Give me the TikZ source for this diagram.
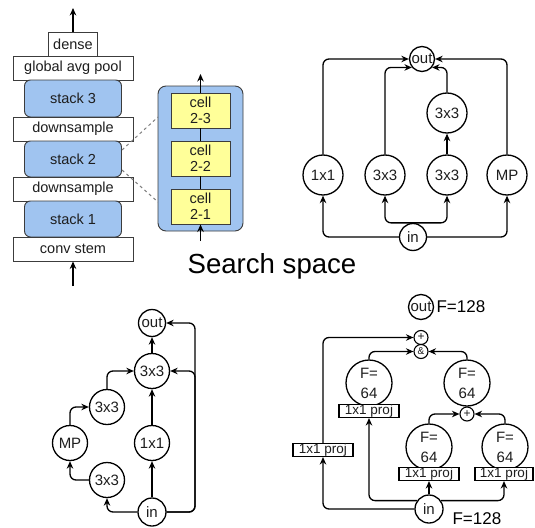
\documentclass[tikz,border=0pt]{standalone}
\usepackage{fontspec}
\setmainfont{Liberation Sans}
\usetikzlibrary{arrows.meta}
\definecolor{stackblue}{RGB}{160,196,240}
\definecolor{cellyellow}{RGB}{255,255,153}
\definecolor{edgegray}{RGB}{60,60,60}
\definecolor{txt}{RGB}{30,30,30}
\begin{document}
\begin{tikzpicture}[x=1pt,y=-1pt,
  lbl/.style={font=\fontsize{14.5}{16}\selectfont, text=txt},
  oplbl/.style={font=\fontsize{15}{16}\selectfont, text=txt},
  whitebox/.style={draw=edgegray, fill=white, line width=0.9pt, minimum height=24pt, inner sep=0pt, lbl},
  stackbox/.style={draw=edgegray, fill=stackblue, line width=0.9pt, rounded corners=6pt, minimum width=97pt, minimum height=36pt, inner sep=0pt, lbl},
  cellbox/.style={draw=edgegray, fill=cellyellow, line width=0.9pt, minimum width=59pt, minimum height=35pt, inner sep=0pt, align=center, lbl},
  op/.style={circle, draw=black, line width=1.3pt, fill=white, inner sep=0pt, oplbl},
  fop/.style={op, minimum size=46pt, align=center, font=\fontsize{15}{20}\selectfont},
  small/.style={op, minimum size=14pt, line width=1.1pt, font=\fontsize{12}{12}\selectfont},
  proj/.style={draw=black, fill=white, line width=1.1pt, minimum width=60pt, minimum height=13pt, inner sep=0pt, font=\fontsize{13.5}{13}\selectfont, text=txt},
  arr/.style={-{Stealth[length=7.5pt,width=6.5pt]}, line width=1.3pt, rounded corners=6pt},
  plain/.style={line width=1.2pt},
  flabel/.style={font=\fontsize{17}{18}\selectfont, anchor=west}
]
\useasboundingbox (0,0) rectangle (535,527);

% ---------- left stack ----------
\node[whitebox, minimum width=49pt] (dense) at (73,44) {dense};
\node[whitebox, minimum width=120pt] (gap) at (73,68) {global avg pool};
\node[stackbox, minimum height=37pt] (s3) at (73,98.5) {stack 3};
\node[whitebox, minimum width=120pt] (ds2) at (73,129) {downsample};
\node[stackbox] (s2) at (73,159) {stack 2};
\node[whitebox, minimum width=120pt] (ds1) at (73,189) {downsample};
\node[stackbox] (s1) at (73,219) {stack 1};
\node[whitebox, minimum width=120pt] (stem) at (73,249) {conv stem};
\coordinate (topout) at (73,8);
\coordinate (botin) at (73,286);
\draw[arr] (dense.north) -- (topout);
\draw[arr] (botin) -- (stem.south);

% ---------- cell container ----------
\node[draw=edgegray, fill=stackblue, line width=0.9pt, rounded corners=8pt,
      minimum width=85pt, minimum height=145pt, inner sep=0pt] (cont) at (200.5,158.5) {};
\node[cellbox] (c23) at (200.5,110.5) {cell\\2-3};
\node[cellbox] (c22) at (200.5,158.5) {cell\\2-2};
\node[cellbox] (c21) at (200.5,206.5) {cell\\2-1};
\coordinate (ctop) at (200.5,74);
\coordinate (cbot) at (200.5,241);
\draw[arr] (c23.north) -- (ctop);
\draw[arr] (cbot) -- (c21.south);
\draw[plain, line width=1pt] (c21.north) -- (c22.south);
\draw[plain, line width=1pt] (c22.north) -- (c23.south);
\coordinate (d1a) at (122,150);
\coordinate (d1b) at (158,117);
\coordinate (d2a) at (122,170);
\coordinate (d2b) at (158,202);
\draw[gray, dashed, line width=1pt] (d1a) -- (d1b);
\draw[gray, dashed, line width=1pt] (d2a) -- (d2b);

% ---------- title ----------
\node[font=\fontsize{27.6}{30}\selectfont, anchor=base] (title) at (272,273) {Search space};

% ---------- top right cell ----------
\node[op, minimum size=25pt] (out) at (422,59) {out};
\node[op, minimum size=40pt] (t3) at (447,113) {3x3};
\node[op, minimum size=40pt] (a1) at (323,175) {1x1};
\node[op, minimum size=40pt] (a2) at (385,175) {3x3};
\node[op, minimum size=40pt] (a3) at (447,175) {3x3};
\node[op, minimum size=40pt] (a4) at (507,175) {MP};
\node[op, minimum size=27pt] (in) at (413,237) {in};
\draw[arr] (in.west) -| (a1.south);
\draw[arr] (in.east) -| (a4.south);
\draw[arr] (in.north) -| (a2.south);
\draw[arr] (in.north) -| (a3.south);
\draw[arr] (a3.north) -- (t3.south);
\draw[arr] (a1.north) |- (out.west);
\draw[arr] (a4.north) |- (out.east);
\draw[arr] (a2.north) |- (out.-140);
\draw[arr] (t3.north) |- (out.-40);

% ---------- bottom left cell ----------
\node[op, minimum size=27pt] (bout) at (152,323) {out};
\node[op, minimum size=35pt] (b3t) at (152,371) {3x3};
\node[op, minimum size=35pt] (b3m) at (107,407) {3x3};
\node[op, minimum size=35pt] (bmp) at (70,443) {MP};
\node[op, minimum size=35pt] (b11) at (152,443) {1x1};
\node[op, minimum size=35pt] (b3l) at (107,480) {3x3};
\node[op, minimum size=28pt] (bin) at (152,512) {in};
\coordinate (br1) at (195,323);
\coordinate (br2) at (195,371);
\draw[arr] (bin.north) -- (b11.south);
\draw[arr] (b11.north) -- (b3t.south);
\draw[arr] (b3t.north) -- (bout.south);
\draw[arr] (bin.west) -| (b3l.south);
\draw[arr] (b3l.west) -| (bmp.south);
\draw[arr] (bmp.north) |- (b3m.west);
\draw[arr] (b3m.north) |- (b3t.west);
\draw[arr] (bin.east) -| (br1) -- (bout.east);
\draw[arr] (bin.east) -| (br2) -- (b3t.east);

% ---------- bottom right cell ----------
\node[op, minimum size=25pt] (rout) at (421,307) {out};
\node[flabel] (fout) at (433,307) {F=128};
\node[small] (rplus) at (421,337.5) {+};
\node[small, font=\fontsize{10}{10}\selectfont] (ramp) at (421,351.5) {\&};
\node[fop] (fL) at (369,383) {F=\\64};
\node[proj] (pL) at (369,411) {1x1 proj};
\node[fop] (fR) at (467,383) {F=\\64};
\node[small] (rplus2) at (467,414) {+};
\node[fop] (fLL) at (429,447) {F=\\64};
\node[proj] (pLL) at (429,474) {1x1 proj};
\node[fop] (fLR) at (505,447) {F=\\64};
\node[proj, minimum width=58pt] (pLR) at (504,474) {1x1 proj};
\node[proj] (pFar) at (323,450) {1x1 proj};
\node[op, minimum size=28pt] (rin) at (429,509) {in};
\node[flabel] (fin) at (449,519) {F=128};
\draw[arr] (rin.west) -| (pFar.south);
\draw[arr] (pFar.north) |- (rplus.west);
\draw[arr] (rin.north) -- (pLL.south);
\draw[arr] (rin.145) -| (pL.south);
\draw[arr] (rin.35) -| (pLR.south);
\draw[arr] (fLL.north) |- (rplus2.west);
\draw[arr] (fLR.north) |- (rplus2.east);
\draw[arr] (fL.north) |- (ramp.west);
\draw[arr] (fR.north) |- (ramp.east);
\end{tikzpicture}
\end{document}
